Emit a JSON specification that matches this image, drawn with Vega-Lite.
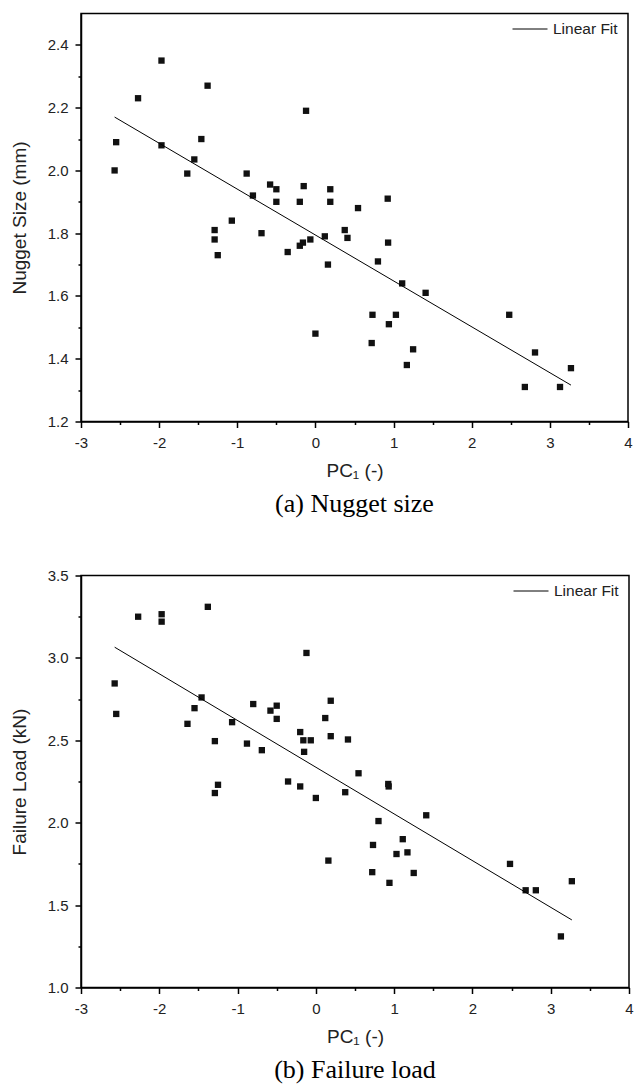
{
  "$schema": "https://vega.github.io/schema/vega-lite/v6.json",
  "background": "white",
  "padding": {"left": 9, "top": 9.5, "right": 0, "bottom": 0},
  "autosize": {"type": "pad"},
  "datasets": {
    "pts": [
      {"pc1": -2.57, "nugget": 2.00, "load": 2.845},
      {"pc1": -2.55, "nugget": 2.09, "load": 2.66},
      {"pc1": -2.27, "nugget": 2.23, "load": 3.25},
      {"pc1": -1.97, "nugget": 2.35, "load": 3.265},
      {"pc1": -1.97, "nugget": 2.08, "load": 3.22},
      {"pc1": -1.64, "nugget": 1.99, "load": 2.60},
      {"pc1": -1.55, "nugget": 2.035, "load": 2.695},
      {"pc1": -1.46, "nugget": 2.10, "load": 2.76},
      {"pc1": -1.38, "nugget": 2.27, "load": 3.31},
      {"pc1": -1.29, "nugget": 1.81, "load": 2.495},
      {"pc1": -1.29, "nugget": 1.78, "load": 2.18},
      {"pc1": -1.25, "nugget": 1.73, "load": 2.23},
      {"pc1": -1.07, "nugget": 1.84, "load": 2.61},
      {"pc1": -0.88, "nugget": 1.99, "load": 2.48},
      {"pc1": -0.80, "nugget": 1.92, "load": 2.72},
      {"pc1": -0.69, "nugget": 1.80, "load": 2.44},
      {"pc1": -0.58, "nugget": 1.955, "load": 2.68},
      {"pc1": -0.50, "nugget": 1.94, "load": 2.71},
      {"pc1": -0.50, "nugget": 1.90, "load": 2.63},
      {"pc1": -0.355, "nugget": 1.74, "load": 2.25},
      {"pc1": -0.20, "nugget": 1.90, "load": 2.55},
      {"pc1": -0.20, "nugget": 1.76, "load": 2.22},
      {"pc1": -0.16, "nugget": 1.77, "load": 2.50},
      {"pc1": -0.15, "nugget": 1.95, "load": 2.43},
      {"pc1": -0.12, "nugget": 2.19, "load": 3.03},
      {"pc1": -0.065, "nugget": 1.78, "load": 2.50},
      {"pc1": 0.00, "nugget": 1.48, "load": 2.15},
      {"pc1": 0.12, "nugget": 1.79, "load": 2.635},
      {"pc1": 0.16, "nugget": 1.70, "load": 1.77},
      {"pc1": 0.19, "nugget": 1.94, "load": 2.74},
      {"pc1": 0.19, "nugget": 1.90, "load": 2.525},
      {"pc1": 0.375, "nugget": 1.81, "load": 2.185},
      {"pc1": 0.41, "nugget": 1.785, "load": 2.505},
      {"pc1": 0.545, "nugget": 1.88, "load": 2.30},
      {"pc1": 0.72, "nugget": 1.45, "load": 1.70},
      {"pc1": 0.73, "nugget": 1.54, "load": 1.865},
      {"pc1": 0.80, "nugget": 1.71, "load": 2.01},
      {"pc1": 0.925, "nugget": 1.91, "load": 2.235},
      {"pc1": 0.93, "nugget": 1.77, "load": 2.22},
      {"pc1": 0.94, "nugget": 1.51, "load": 1.635},
      {"pc1": 1.03, "nugget": 1.54, "load": 1.81},
      {"pc1": 1.11, "nugget": 1.64, "load": 1.90},
      {"pc1": 1.17, "nugget": 1.38, "load": 1.82},
      {"pc1": 1.25, "nugget": 1.43, "load": 1.695},
      {"pc1": 1.41, "nugget": 1.61, "load": 2.045},
      {"pc1": 2.48, "nugget": 1.54, "load": 1.75},
      {"pc1": 2.68, "nugget": 1.31, "load": 1.59},
      {"pc1": 2.81, "nugget": 1.42, "load": 1.59},
      {"pc1": 3.13, "nugget": 1.31, "load": 1.31},
      {"pc1": 3.27, "nugget": 1.37, "load": 1.645}
    ],
    "fit": [
      {"pc1": -2.57, "nugget": 2.17, "load": 3.065},
      {"pc1": 3.27, "nugget": 1.316, "load": 1.41}
    ]
  },
  "config": {
    "view": {"stroke": "black", "strokeWidth": 1.5},
    "axis": {
      "grid": false,
      "domainColor": "black",
      "domainWidth": 1.5,
      "tickColor": "black",
      "tickWidth": 1.5,
      "labelFont": "Liberation Sans",
      "labelFontSize": 15,
      "labelColor": "#222222",
      "titleFont": "Liberation Sans",
      "titleFontSize": 19,
      "titleFontWeight": "normal",
      "titleColor": "#222222"
    },
    "legend": {
      "labelFont": "Liberation Sans",
      "labelFontSize": 15.5,
      "labelColor": "#222222"
    },
    "title": {"font": "Liberation Serif", "fontSize": 26, "fontWeight": "normal", "color": "black"},
    "concat": {"spacing": 49}
  },
  "resolve": {"legend": {"color": "independent"}, "scale": {"color": "independent"}},
  "vconcat": [
    {
      "width": 547,
      "height": 408,
      "title": {"text": "(a)  Nugget size", "orient": "bottom", "frame": "group", "anchor": "middle", "offset": 11},
      "resolve": {"axis": {"x": "independent", "y": "independent"}},
      "layer": [
        {
          "data": {"name": "pts"},
          "mark": {"type": "square", "size": 40, "color": "#111111", "opacity": 1},
          "encoding": {
            "x": {"field": "pc1", "type": "quantitative",
              "scale": {"domain": [-3, 4], "nice": false, "zero": false},
              "axis": {"orient": "bottom", "values": [-3, -2, -1, 0, 1, 2, 3, 4], "labelExpr": "'' + datum.value", "labelFlush": false, "labelOverlap": false, "tickSize": 6, "labelPadding": 8, "title": "PC₁ (-)", "titlePadding": 10.5}},
            "y": {"field": "nugget", "type": "quantitative",
              "scale": {"domain": [1.2, 2.5], "nice": false, "zero": false},
              "axis": {"orient": "left", "values": [1.2, 1.4, 1.6, 1.8, 2.0, 2.2, 2.4], "format": ".1f", "labelFlush": false, "labelOverlap": false, "tickSize": 6, "labelPadding": 7, "title": "Nugget Size (mm)", "titlePadding": 17.5}}
          }
        },
        {
          "data": {"name": "fit"},
          "mark": {"type": "line", "strokeWidth": 1},
          "encoding": {
            "x": {"field": "pc1", "type": "quantitative",
              "axis": {"orient": "bottom", "values": [-2.5, -1.5, -0.5, 0.5, 1.5, 2.5, 3.5], "labels": false, "domain": false, "tickSize": 3, "title": null}},
            "y": {"field": "nugget", "type": "quantitative",
              "axis": {"orient": "left", "values": [1.3, 1.5, 1.7, 1.9, 2.1, 2.3], "labels": false, "domain": false, "tickSize": 3, "title": null}},
            "color": {"datum": "Linear Fit", "type": "nominal", "scale": {"range": ["black"]},
              "legend": {"title": null, "orient": "none", "legendX": 431, "legendY": -2.5, "padding": 0, "symbolType": "stroke", "symbolSize": 1225, "symbolStrokeWidth": 1, "labelOffset": 5}}
          }
        }
      ]
    },
    {
      "width": 548,
      "height": 412,
      "title": {"text": "(b)  Failure load", "orient": "bottom", "frame": "group", "anchor": "middle", "offset": 11},
      "resolve": {"axis": {"x": "independent", "y": "independent"}},
      "layer": [
        {
          "data": {"name": "pts"},
          "mark": {"type": "square", "size": 40, "color": "#111111", "opacity": 1},
          "encoding": {
            "x": {"field": "pc1", "type": "quantitative",
              "scale": {"domain": [-3, 4], "nice": false, "zero": false},
              "axis": {"orient": "bottom", "values": [-3, -2, -1, 0, 1, 2, 3, 4], "labelExpr": "'' + datum.value", "labelFlush": false, "labelOverlap": false, "tickSize": 6, "labelPadding": 8, "title": "PC₁ (-)", "titlePadding": 10.5}},
            "y": {"field": "load", "type": "quantitative",
              "scale": {"domain": [1.0, 3.5], "nice": false, "zero": false},
              "axis": {"orient": "left", "values": [1.0, 1.5, 2.0, 2.5, 3.0, 3.5], "format": ".1f", "labelFlush": false, "labelOverlap": false, "tickSize": 6, "labelPadding": 7, "title": "Failure Load (kN)", "titlePadding": 17.5}}
          }
        },
        {
          "data": {"name": "fit"},
          "mark": {"type": "line", "strokeWidth": 1},
          "encoding": {
            "x": {"field": "pc1", "type": "quantitative",
              "axis": {"orient": "bottom", "values": [-2.5, -1.5, -0.5, 0.5, 1.5, 2.5, 3.5], "labels": false, "domain": false, "tickSize": 3, "title": null}},
            "y": {"field": "load", "type": "quantitative",
              "axis": {"orient": "left", "values": [1.25, 1.75, 2.25, 2.75, 3.25], "labels": false, "domain": false, "tickSize": 3, "title": null}},
            "color": {"datum": "Linear Fit", "type": "nominal", "scale": {"range": ["black"]},
              "legend": {"title": null, "orient": "none", "legendX": 432, "legendY": -2.5, "padding": 0, "symbolType": "stroke", "symbolSize": 1225, "symbolStrokeWidth": 1, "labelOffset": 5}}
          }
        }
      ]
    }
  ]
}
